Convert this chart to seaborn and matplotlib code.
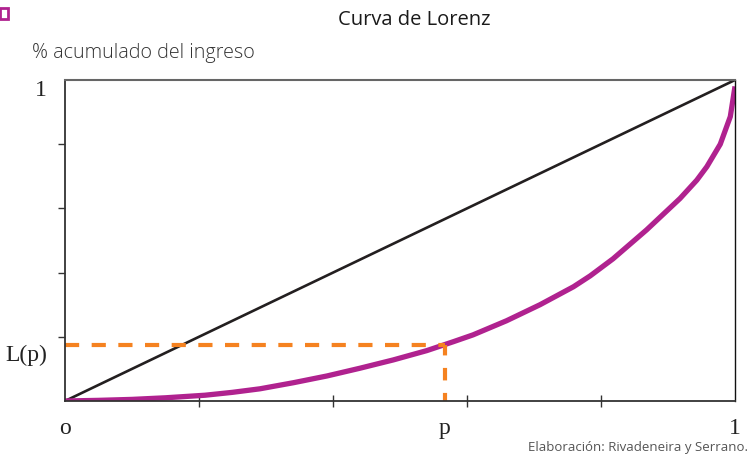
import numpy as np
import pandas as pd
import matplotlib
matplotlib.use("Agg")
import matplotlib.pyplot as plt
import matplotlib.transforms as mtrans
import seaborn as sb
from matplotlib.patches import Rectangle

# Values
p_vals = [0.0, 0.05, 0.1, 0.15, 0.209, 0.25, 0.291, 0.341, 0.391, 0.44, 0.49,
          0.54, 0.58, 0.609, 0.659, 0.709, 0.759, 0.784, 0.818, 0.868, 0.918,
          0.943, 0.958, 0.978, 0.993, 1.0]
lorenz_vals = [0.0, 0.002, 0.005, 0.010, 0.018, 0.027, 0.038, 0.057, 0.078,
               0.102, 0.128, 0.157, 0.185, 0.206, 0.250, 0.300, 0.356, 0.390,
               0.443, 0.533, 0.631, 0.688, 0.73, 0.80, 0.886, 0.98]
equal_x = [0.0, 1.0]
equal_y = [0.0, 1.0]
p_mark = 0.567
lp_mark = 0.174
minor_ticks = [0.2, 0.4, 0.6, 0.8]
x_labels = ["o", "p", "1"]
y_labels = ["L(p)", "1"]

dfLor = pd.DataFrame({"p": p_vals, "L": lorenz_vals})
dfEq = pd.DataFrame({"p": equal_x, "L": equal_y})

# Colors
clrMag = "#B0228F"
clrOra = "#F58220"

sb.set_style("white")
plt.rcParams["font.family"] = ["Open Sans", "DejaVu Sans"]

fig = plt.figure(figsize=(7.51, 4.57), dpi=100)
ax = fig.add_axes([65 / 751, 1 - 401 / 457, 670 / 751, 321 / 457])

# Line of equality and Lorenz curve
sb.lineplot(data=dfEq, x="p", y="L", ax=ax, color="#231F20", lw=1.9)
sb.lineplot(data=dfLor, x="p", y="L", ax=ax, color=clrMag, lw=3.8,
            solid_capstyle="butt", solid_joinstyle="round")

# Dashed guides for p and L(p)
ax.plot([0, p_mark], [lp_mark, lp_mark], color=clrOra, lw=3,
        linestyle=(0, (3.4, 3.0)), dash_capstyle="butt")
ax.plot([p_mark, p_mark], [lp_mark, 0], color=clrOra, lw=3,
        linestyle=(0.5, (3.0, 3.0)), dash_capstyle="butt")

ax.set_xlim(0, 1)
ax.set_ylim(0, 1)
ax.set_xlabel("")
ax.set_ylabel("")

# Ticks: labels as major ticks, marks as minor ticks
ax.set_xticks([0, p_mark, 1])
ax.set_xticklabels(x_labels, family="Liberation Serif", fontsize=17)
ax.set_yticks([lp_mark, 1])
ax.set_yticklabels(y_labels, family="Liberation Serif", fontsize=17)
ax.set_xticks(minor_ticks, minor=True)
ax.set_yticks(minor_ticks, minor=True)
ax.tick_params(bottom=True, left=True, which="both")
ax.tick_params(axis="both", which="major", length=0, colors="#222222")
ax.tick_params(axis="x", which="major", pad=12)
ax.tick_params(axis="y", which="major", pad=13)
ax.tick_params(axis="x", which="minor", direction="inout", length=8,
               width=1, color="#333333")
ax.tick_params(axis="y", which="minor", direction="out", length=5,
               width=1, color="#333333")

# Shift y labels a little downward as in the reference
shift = mtrans.ScaledTranslation(0, -0.08, fig.dpi_scale_trans)
for lbl in ax.get_yticklabels():
    lbl.set_transform(lbl.get_transform() + shift)

for s in ["left", "bottom"]:
    ax.spines[s].set_color("#333333")
    ax.spines[s].set_linewidth(1.3)
ax.spines["top"].set_color("#666666")
ax.spines["top"].set_linewidth(1.5)
ax.spines["right"].set_color("#111111")
ax.spines["right"].set_linewidth(1.0)

# Texts
fig.text(414 / 751, 1 - 20 / 457, "Curva de Lorenz", ha="center", va="center",
         fontsize=14.5, color="#1a1a1a")
fig.text(32 / 751, 1 - 53 / 457, "% acumulado del ingreso", ha="left",
         va="center", fontsize=14.2, fontweight="light", color="#333333")
fig.text(748 / 751, 1 - 448 / 457, "Elaboración: Rivadeneira y Serrano.",
         ha="right", va="center", fontsize=9.5, color="#555555")

# Small magenta square in the corner
fig.patches.append(Rectangle((0, 1 - 19 / 457), 8 / 751, 11 / 457,
                             transform=fig.transFigure, fill=False,
                             edgecolor=clrMag, lw=2))

fig.savefig("out.png", dpi=100)
